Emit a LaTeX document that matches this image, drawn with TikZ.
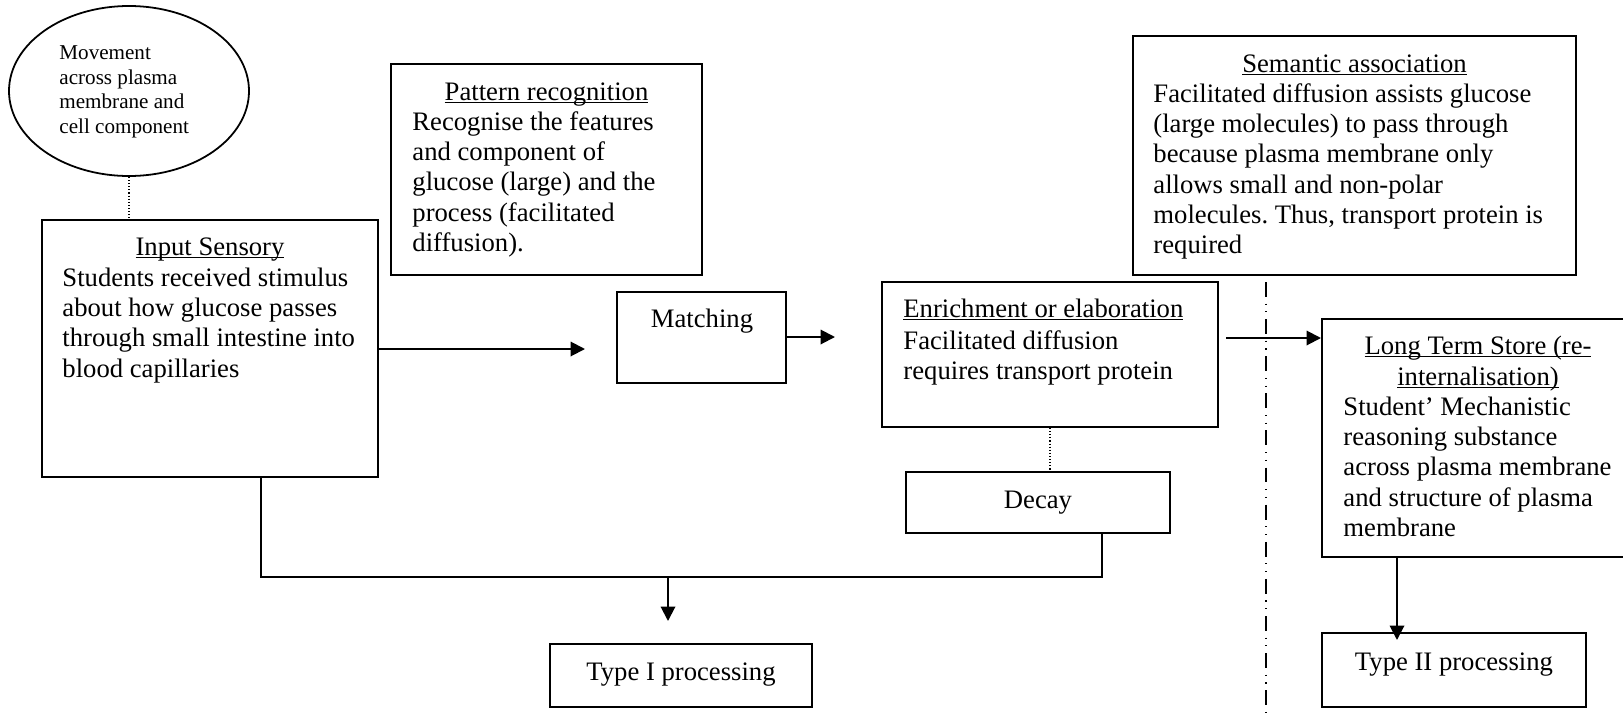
\documentclass[tikz,border=0pt]{standalone}
\usepackage{fontspec}
\setmainfont{Liberation Serif}
\usetikzlibrary{arrows.meta,shapes.geometric}
\frenchspacing
% underline sitting just below the baseline
\newcommand\headline[1]{\setbox0\hbox{#1}\rlap{\rule[-1.5pt]{\wd0}{0.55pt}}\box0}
\begin{document}
\begin{tikzpicture}[x=0.45pt, y=-0.45pt,
  panel/.style={draw, line width=0.9pt, inner sep=0pt},
  sz/.style 2 args={minimum width=#1*0.45pt, minimum height=#2*0.45pt},
  body/.style={inner sep=0pt, anchor=north west, align=left, font=\fontsize{12}{13.6}\selectfont},
  head/.style={inner sep=0pt, anchor=base, font=\fontsize{12}{13.6}\selectfont},
  link/.style={line width=0.9pt},
  arr/.style={link, -{Triangle[length=6.5pt,width=6.5pt]}},
  faint/.style={line width=0.5pt, dash pattern=on 0.5pt off 0.9pt},
  divider/.style={line width=0.55pt, dash pattern=on 6.7pt off 3pt on 0.5pt off 3pt on 0.5pt off 3pt}
]
\useasboundingbox (0,0) rectangle (1623,713);
\clip (0,0) rectangle (1623,713);

% sensory input cue
\node[draw, ellipse, line width=0.8pt, inner sep=0pt, sz={240}{170}] (ell) at (129,91) {};
\node[inner sep=0pt, anchor=north west, align=left, font=\fontsize{9.5}{11.1}\selectfont] (elltxt) at (59,41.7)
  {\strut Movement\\across plasma\\membrane and\\cell component};

% input sensory
\node[panel, sz={336}{257}] (inp) at (210,348.5) {};
\node[head] (inph) at (210,255) {\headline{Input Sensory}};
\node[body] (inpb) at (62,264.8) {\strut Students received stimulus\\about how glucose passes\\through small intestine into\\blood capillaries};

% pattern recognition
\node[panel, sz={311}{211}] (pat) at (546.5,169.5) {};
\node[head] (path) at (546.5,100) {\headline{Pattern recognition}};
\node[body] (patb) at (412,108.8) {\strut Recognise the features\\and component of\\glucose (large) and the\\process (facilitated\\diffusion).};

% matching
\node[panel, sz={169}{91}] (match) at (701.5,337.5) {};
\node[head] (matcht) at (702,327) {Matching};

% enrichment
\node[panel, sz={336}{145}] (enr) at (1050,354.5) {};
\node[head, anchor=base west] (enrh) at (903,317) {\headline{Enrichment or elaboration}};
\node[body] (enrb) at (903,327.5) {\strut Facilitated diffusion\\requires transport protein};

% semantic association
\node[panel, sz={443}{239}] (sem) at (1354.5,155.5) {};
\node[head] (semh) at (1354.5,72) {\headline{Semantic association}};
\node[body] (semb) at (1153,80.8) {\strut Facilitated diffusion assists glucose\\(large molecules) to pass through\\because plasma membrane only\\allows small and non-polar\\molecules. Thus, transport protein is\\required};

% long term store
\node[panel, sz={312}{238}] (lts) at (1478,438) {};
\node[head] (ltsh1) at (1478,354) {\headline{Long Term Store (re-}};
\node[head] (ltsh2) at (1478,385) {\headline{internalisation)}};
\node[body] (ltsb) at (1343,393.8) {\strut Student’ Mechanistic\\reasoning substance\\across plasma membrane\\and structure of plasma\\membrane};

% decay
\node[panel, sz={264}{61}] (decay) at (1038,502.5) {};
\node[head] (decayt) at (1038,508) {Decay};

% processing outcomes
\node[panel, sz={262}{63}] (t1) at (681,675.5) {};
\node[head] (t1t) at (681,680) {Type I processing};
\node[panel, sz={264}{74}] (t2) at (1454,670) {};
\node[head] (t2t) at (1454,670) {Type II processing};

% connectors
\draw[faint] (ell.south) -- (ell.south |- inp.north);
\draw[faint] (enr.south) -- (enr.south |- decay.north);

\coordinate (a1) at (585,349);
\draw[arr] (inp.east |- a1) -- (a1);
\coordinate (a2) at (835,337);
\draw[arr] (match.east |- a2) -- (a2);
\coordinate (a3) at (1226,338);
\draw[arr] (a3) -- (lts.west |- a3);

\coordinate (j1) at (261,577);
\coordinate (j2) at (1102,577);
\draw[link] (inp.south -| j1) -- (j1) -- (j2) -- (decay.south -| j2);
\coordinate (a4) at (668,577);
\coordinate (a4t) at (668,621);
\draw[arr] (a4) -- (a4t);

\coordinate (a5) at (1397,640);
\draw[arr] (lts.south -| a5) -- (a5);

% dash-dot divider
\coordinate (dtop) at (1266,282);
\coordinate (dbot) at (1266,713);
\draw[divider] (dtop) -- (dbot);
\end{tikzpicture}
\end{document}
